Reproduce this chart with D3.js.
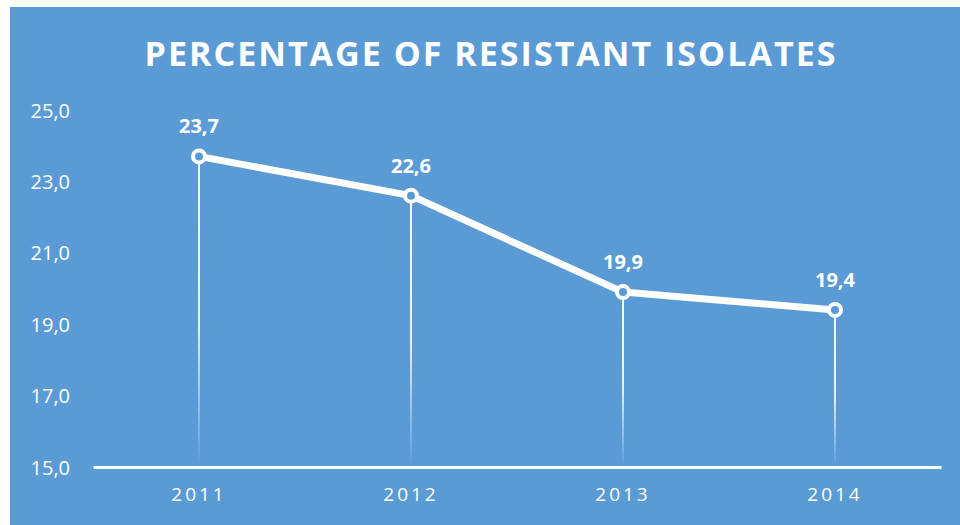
<!DOCTYPE html>
<html>
<head>
<meta charset="utf-8">
<script src="https://cdn.jsdelivr.net/npm/d3@7"></script>
<style>
  body { margin: 0; background: #fff; }
  text { font-family: "Open Sans", "Liberation Sans", sans-serif; fill: #fff; }
</style>
</head>
<body>
<svg id="chart" width="960" height="525"></svg>
<script>
const years = ["2011", "2012", "2013", "2014"];
const values = [23.7, 22.6, 19.9, 19.4];
const yTicks = [15, 17, 19, 21, 23, 25];

const svg = d3.select("#chart");
const W = 960, H = 525;
const margin = { left: 93, right: 19, top: 110, bottom: 58 };

// background panel
svg.append("rect")
  .attr("x", 10).attr("y", 7)
  .attr("width", W - 10).attr("height", H - 7)
  .attr("fill", "#5b9bd5");

svg.append("text")
  .attr("x", 491).attr("y", 66)
  .attr("text-anchor", "middle")
  .attr("font-size", 34)
  .attr("font-weight", "bold")
  .attr("letter-spacing", 2)
  .attr("textLength", 693)
  .attr("lengthAdjust", "spacingAndGlyphs")
  .text("PERCENTAGE OF RESISTANT ISOLATES");

const x = d3.scaleBand()
  .domain(years)
  .range([margin.left, W - margin.right]);

const y = d3.scaleLinear()
  .domain([15, 25])
  .range([H - margin.bottom, margin.top]);

const cx = d => x(d) + x.bandwidth() / 2;

// y axis labels (no line)
const yAxis = d3.axisLeft(y).tickValues(yTicks)
  .tickFormat(d => d3.format(".1f")(d).replace(".", ","))
  .tickSize(0).tickPadding(0);
const gy = svg.append("g").attr("transform", "translate(70,0)").call(yAxis);
gy.select(".domain").remove();
gy.selectAll("text").attr("font-size", 20).attr("fill", "#fff").attr("dy", "0.35em");

// drop line gradient
const defs = svg.append("defs");
const grad = defs.append("linearGradient")
  .attr("id", "drop").attr("x1", 0).attr("y1", 0).attr("x2", 0).attr("y2", 1);
grad.append("stop").attr("offset", "0%").attr("stop-color", "#fff").attr("stop-opacity", 1);
grad.append("stop").attr("offset", "55%").attr("stop-color", "#fff").attr("stop-opacity", 0.85);
grad.append("stop").attr("offset", "100%").attr("stop-color", "#fff").attr("stop-opacity", 0);

svg.append("g").selectAll("rect")
  .data(years)
  .join("rect")
  .attr("x", d => cx(d) - 1)
  .attr("y", (d, i) => y(values[i]))
  .attr("width", 2)
  .attr("height", (d, i) => y(15) - y(values[i]))
  .attr("fill", "url(#drop)");

// x axis
const xAxis = d3.axisBottom(x).tickSize(0).tickPadding(21);
const gx = svg.append("g").attr("transform", `translate(0,${y(15)})`).call(xAxis);
gx.select(".domain").attr("stroke", "#fff").attr("stroke-width", 3);
gx.selectAll("text").attr("font-size", 19).attr("fill", "#fff").attr("letter-spacing", 3);

// line
const line = d3.line()
  .x((d, i) => cx(years[i]))
  .y(d => y(d));

svg.append("path")
  .datum(values)
  .attr("d", line)
  .attr("fill", "none")
  .attr("stroke", "#fff")
  .attr("stroke-width", 7)
  .attr("stroke-linejoin", "round");

svg.append("g").selectAll("circle")
  .data(values)
  .join("circle")
  .attr("cx", (d, i) => cx(years[i]))
  .attr("cy", d => y(d))
  .attr("r", 6)
  .attr("fill", "#5b9bd5")
  .attr("stroke", "#fff")
  .attr("stroke-width", 4);

svg.append("g").selectAll("text")
  .data(values)
  .join("text")
  .attr("x", (d, i) => cx(years[i]))
  .attr("y", d => y(d) - 23)
  .attr("text-anchor", "middle")
  .attr("font-size", 20)
  .attr("font-weight", "bold")
  .text(d => d3.format(".1f")(d).replace(".", ","));
</script>
</body>
</html>
